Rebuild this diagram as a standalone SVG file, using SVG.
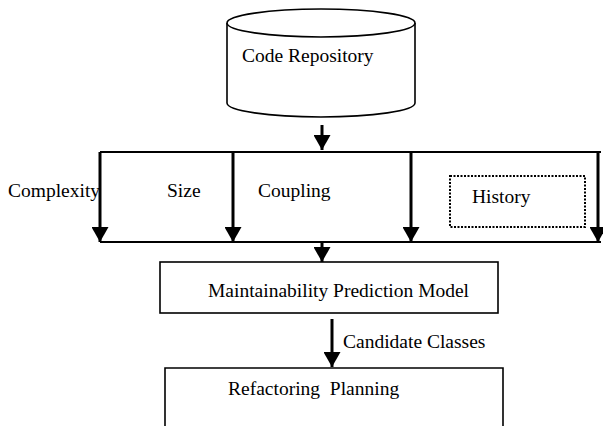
<svg xmlns="http://www.w3.org/2000/svg" width="603" height="426" viewBox="0 0 603 426">
<style>
text{font-family:"Liberation Serif","Times New Roman",serif;font-size:19.5px;fill:#000}
.box{fill:#fff;stroke:#000;stroke-width:1.6}
.thin{stroke:#000;stroke-width:2;fill:none}
.thick{stroke:#000;stroke-width:3;fill:none}
</style>
<defs>
<marker id="ah" viewBox="0 0 15 17" refX="15" refY="8.5" markerWidth="15" markerHeight="17" markerUnits="userSpaceOnUse" orient="auto">
<path d="M0,0 L15,8.5 L0,17 Z" fill="#000"/>
</marker>
</defs>
<g id="code-repository">
<path class="box" d="M227,23 L227,103 A94,14 0 0 0 415,103 L415,23"/>
<ellipse class="box" cx="321" cy="23" rx="94" ry="14"/>
<text x="242" y="62">Code Repository</text>
</g>
<g id="connectors">
<line class="thin" x1="100" y1="152" x2="601" y2="152"/>
<line class="thin" x1="100" y1="242" x2="601" y2="242"/>
<path class="thick" d="M322,125 V150" marker-end="url(#ah)"/>
<path class="thick" d="M100,152 V242" marker-end="url(#ah)"/>
<path class="thick" d="M233,152 V242" marker-end="url(#ah)"/>
<path class="thick" d="M411,152 V242" marker-end="url(#ah)"/>
<path class="thick" d="M598,152 V242" marker-end="url(#ah)"/>
<path class="thick" d="M322,242 V262" marker-end="url(#ah)"/>
<path class="thick" d="M332,319 V367" marker-end="url(#ah)"/>
<text x="343" y="348">Candidate Classes</text>
</g>
<g id="complexity"><text x="8" y="197">Complexity</text></g>
<g id="size"><text x="167" y="197">Size</text></g>
<g id="coupling"><text x="258" y="197">Coupling</text></g>
<g id="history">
<rect x="450" y="176" width="135" height="51" fill="none" stroke="#000" stroke-width="2" stroke-dasharray="2,1.5"/>
<text x="472" y="203">History</text>
</g>
<g id="maintainability-model">
<rect class="box" x="160" y="262" width="338" height="51"/>
<text x="208" y="297">Maintainability Prediction Model</text>
</g>
<g id="refactoring-planning">
<path class="box" d="M165,428 V368 H503 V428"/>
<text x="228" y="395" xml:space="preserve">Refactoring  Planning</text>
</g>
</svg>
